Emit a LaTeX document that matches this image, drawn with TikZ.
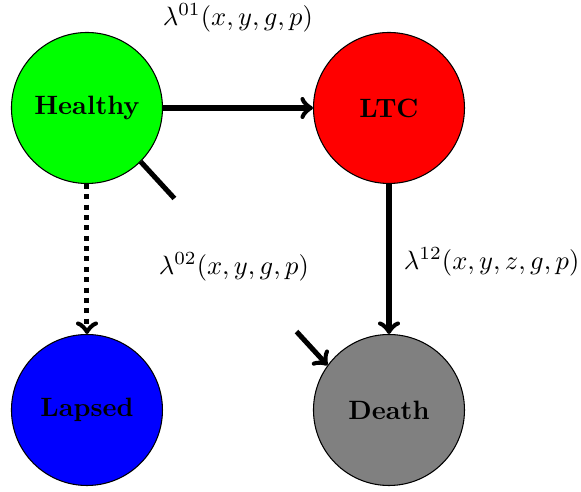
\documentclass[tikz,border=0pt]{standalone}
\usetikzlibrary{arrows}
\begin{document}
\begin{tikzpicture}[
  state/.style={circle, draw=black, minimum size=2cm, inner sep=0pt, font=\bfseries},
  edge/.style={->, line width=1.9pt},
  cover/.style={circle, fill=white, minimum size=2.39cm, inner sep=0pt}
]
\useasboundingbox (-1.152,-5.086) rectangle (6.543,1.43);
\node[state, fill=green] (H) at (0,0) {Healthy};
\node[state, fill=red] (L) at (4,0) {LTC};
\node[state, fill=blue] (P) at (0,-4) {Lapsed};
\node[state, fill=gray] (D) at (4,-4) {Death};
\draw[edge] (H) -- (L);
\node (l01) at (2.0,1.19) {$\lambda^{01}(x,y,g,p)$};
\draw[edge, dotted] (H) -- (P);
\draw[edge] (H.-45) -- (D.144);
\node[cover] (l02) at (1.945,-2.1) {$\lambda^{02}(x,y,g,p)$};
\draw[edge] (L) -- (D);
\node (l12) at (5.36,-2.04) {$\lambda^{12}(x,y,z,g,p)$};
\end{tikzpicture}
\end{document}
